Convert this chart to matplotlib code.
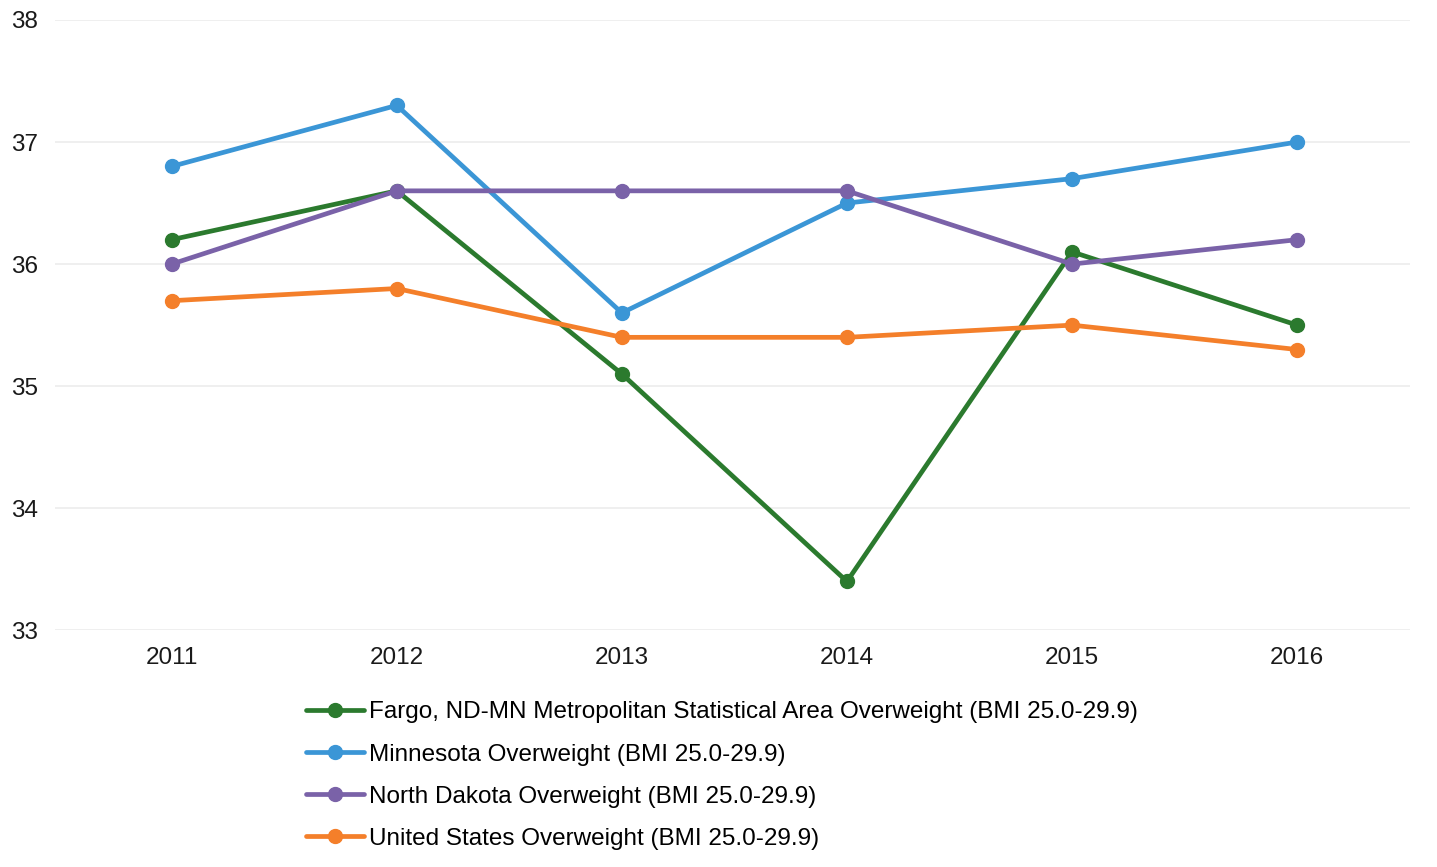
import matplotlib
matplotlib.use("Agg")
import matplotlib.pyplot as plt

plt.rcParams['font.family'] = ['Liberation Sans', 'DejaVu Sans']

years = [2011, 2012, 2013, 2014, 2015, 2016]
fargo = [36.2, 36.6, 35.1, 33.4, 36.1, 35.5]
minnesota = [36.8, 37.3, 35.6, 36.5, 36.7, 37.0]
north_dakota = [36.0, 36.6, 36.6, 36.6, 36.0, 36.2]
united_states = [35.7, 35.8, 35.4, 35.4, 35.5, 35.3]

labels = [
    "Fargo, ND-MN Metropolitan Statistical Area Overweight (BMI 25.0-29.9)",
    "Minnesota Overweight (BMI 25.0-29.9)",
    "North Dakota Overweight (BMI 25.0-29.9)",
    "United States Overweight (BMI 25.0-29.9)",
]
colors = ["#2b7a2e", "#3b96d6", "#7a62a8", "#f47f2a"]
series = [fargo, minnesota, north_dakota, united_states]
yticks = [33, 34, 35, 36, 37, 38]

fig = plt.figure(figsize=(14.37, 8.67), dpi=100)
ax = fig.add_axes([0.038, 0.273, 0.943, 0.704])

for vals, c, lab in zip(series, colors, labels):
    ax.plot(years, vals, color=c, lw=3.4, marker='o', markersize=10, label=lab,
            solid_capstyle='round')

ax.set_xlim(2010.48, 2016.5)
ax.set_ylim(33, 38)
ax.set_yticks(yticks)
ax.set_xticks(years)
ax.set_xticklabels([str(y) for y in years])
ax.tick_params(axis='both', length=0, labelsize=17.5, colors='#1a1a1a')
ax.tick_params(axis='x', pad=12)
for lbl in ax.get_yticklabels():
    lbl.set_horizontalalignment('left')
ax.yaxis.set_tick_params(pad=31)
ax.grid(axis='y', color='#ececec', lw=1.2)
ax.set_axisbelow(True)
for s in ax.spines.values():
    s.set_visible(False)

fig.legend(loc='upper left', bbox_to_anchor=(0.213, 0.191), frameon=False,
           fontsize=17.5, handlelength=2.4, handletextpad=0.2, labelspacing=0.83,
           borderaxespad=0, borderpad=0)

fig.savefig("out.png", dpi=100)
